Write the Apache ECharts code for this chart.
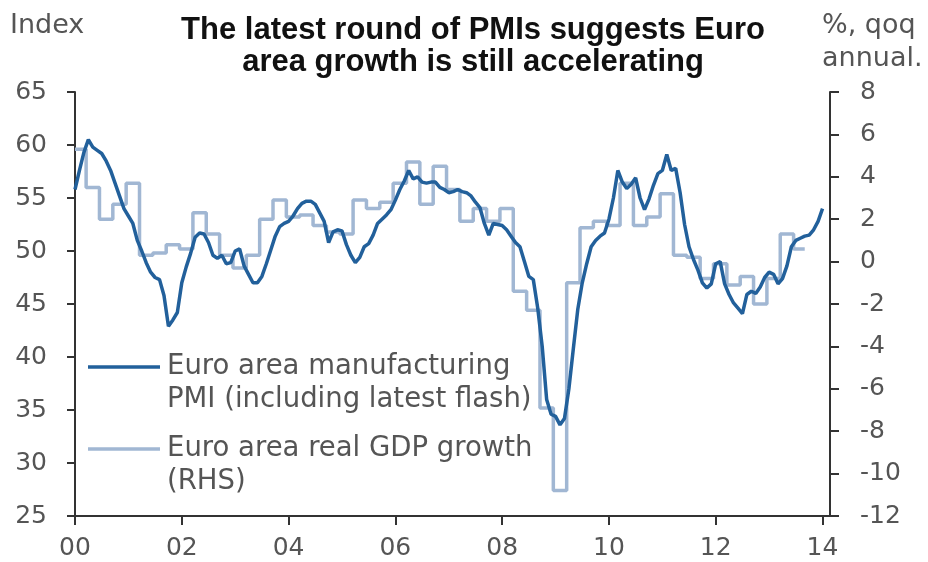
<!DOCTYPE html>
<html>
<head>
<meta charset="utf-8">
<title>Euro area PMI vs GDP</title>
<script src="https://cdn.jsdelivr.net/npm/echarts@6/dist/echarts.min.js"></script>
<style>
  html, body { margin: 0; padding: 0; background: #fff; }
  #chart { width: 928px; height: 562px; }
</style>
</head>
<body>
<div id="chart"></div>
<script>
// Euro area manufacturing PMI, monthly, Jan 2000 .. Jan 2014 (latest flash)
var pmi = [
  55.8, 57.6, 59.3, 60.5, 59.8, 59.5, 59.2, 58.5, 57.6, 56.4, 55.2, 54.0, // 2000
  53.3, 52.6, 51.0, 50.0, 48.9, 48.0, 47.5, 47.3, 45.8, 42.9, 43.5, 44.2, // 2001
  47.0, 48.5, 49.8, 51.3, 51.7, 51.6, 50.8, 49.6, 49.3, 49.6, 48.8, 48.9, // 2002
  50.0, 50.2, 48.6, 47.8, 47.0, 47.0, 47.6, 48.8, 50.1, 51.4, 52.3, 52.6, // 2003
  52.8, 53.3, 54.0, 54.5, 54.7, 54.7, 54.4, 53.6, 52.8, 50.8, 51.8, 52.0, // 2004
  51.9, 50.6, 49.6, 48.9, 49.4, 50.4, 50.7, 51.5, 52.6, 53.0, 53.4, 53.9, // 2005
  54.8, 55.8, 56.6, 57.6, 56.8, 57.0, 56.5, 56.4, 56.5, 56.5, 56.0, 55.8, // 2006
  55.5, 55.6, 55.8, 55.6, 55.5, 55.2, 54.6, 54.1, 52.6, 51.5, 52.6, 52.5, // 2007
  52.4, 52.0, 51.4, 50.8, 50.4, 49.0, 47.6, 47.3, 44.6, 41.0, 36.0, 34.6, // 2008
  34.4, 33.6, 34.2, 37.0, 40.8, 44.5, 47.0, 48.8, 50.4, 51.0, 51.4, 51.7, // 2009
  53.0, 55.0, 57.6, 56.5, 55.9, 56.3, 56.9, 55.0, 53.9, 54.9, 56.2, 57.3, // 2010
  57.6, 59.1, 57.6, 57.8, 55.5, 52.5, 50.4, 49.2, 48.2, 47.0, 46.5, 46.9, // 2011
  48.8, 49.0, 46.9, 45.9, 45.1, 44.6, 44.1, 45.9, 46.2, 46.0, 46.6, 47.5, // 2012
  48.0, 47.8, 46.9, 47.4, 48.6, 50.4, 51.0, 51.2, 51.4, 51.5, 52.0, 52.8, // 2013
  54.0                                                                    // 2014
];

// Euro area real GDP growth, % qoq annualised, Q1 2000 .. Q3 2013
var gdp = [
  5.3, 3.5, 2.0, 2.7,      // 2000
  3.7, 0.3, 0.4, 0.8,      // 2001
  0.6, 2.3, 1.3, 0.3,      // 2002
  -0.3, 0.3, 2.0, 2.9,     // 2003
  2.1, 2.2, 1.7, 1.4,      // 2004
  1.3, 2.9, 2.5, 2.8,      // 2005
  3.7, 4.7, 2.7, 4.5,      // 2006
  3.4, 1.9, 2.5, 1.9,      // 2007
  2.5, -1.4, -2.3, -6.9,   // 2008
  -10.8, -1.0, 1.6, 1.9,   // 2009
  1.7, 3.7, 1.7, 2.1,      // 2010
  3.2, 0.3, 0.2, -0.8,     // 2011
  -0.1, -1.1, -0.7, -2.0,  // 2012
  -0.8, 1.3, 0.6           // 2013
];

var yearLabels = ['00', '02', '04', '06', '08', '10', '12', '14'];

var seriesNames = ['Euro area manufacturing PMI (including latest flash)', 'Euro area real GDP growth (RHS)'];

var pmiColor = '#22609b';
var gdpColor = '#a1b7d3';
var labelColor = '#555555';
var axisColor = '#333333';
var textFont = '27.5px "DejaVu Sans", sans-serif';

// x in years since Jan 2000, each month at i/12
var pmiPoints = pmi.map(function (v, i) { return [i / 12, v]; });

// each quarter drawn flat over its three months (first to last month)
var gdpPoints = [];
gdp.forEach(function (v, q) {
  gdpPoints.push([q / 4, v]);
  gdpPoints.push([q / 4 + 2 / 12, v]);
});

var chart = echarts.init(document.getElementById('chart'));

var option = {
  animation: false,
  backgroundColor: '#ffffff',
  title: {
    text: 'The latest round of PMIs suggests Euro\narea growth is still accelerating',
    left: 468,
    top: 9,
    textAlign: 'center',
    textStyle: {
      fontFamily: 'Liberation Sans, Arial, sans-serif',
      fontWeight: 'bold',
      fontSize: 31,
      lineHeight: 32,
      color: '#111111'
    }
  },
  grid: { left: 75, right: 98, top: 92, bottom: 46 },
  xAxis: {
    type: 'value',
    min: 0,
    max: 14.14,
    interval: 2,
    axisLine: { show: true, onZero: false, lineStyle: { color: axisColor, width: 2 } },
    axisTick: { show: true, length: 9, lineStyle: { color: axisColor, width: 2 } },
    splitLine: { show: false },
    axisLabel: {
      margin: 20,
      color: labelColor,
      fontFamily: 'DejaVu Sans, sans-serif',
      fontSize: 25,
      showMaxLabel: false,
      formatter: function (v) {
        var r = Math.round(v);
        if (Math.abs(v - r) > 1e-6 || r % 2 !== 0) return '';
        return yearLabels[r / 2] || '';
      }
    }
  },
  yAxis: [
    {
      type: 'value',
      position: 'left',
      min: 25,
      max: 65,
      interval: 5,
      axisLine: { show: true, onZero: false, lineStyle: { color: axisColor, width: 2 } },
      axisTick: { show: true, length: 8, lineStyle: { color: axisColor, width: 2 } },
      splitLine: { show: false },
      axisLabel: {
        margin: 28,
        color: labelColor,
        fontFamily: 'DejaVu Sans, sans-serif',
        fontSize: 25
      }
    },
    {
      type: 'value',
      position: 'right',
      min: -12,
      max: 8,
      interval: 2,
      axisLine: { show: true, onZero: false, lineStyle: { color: axisColor, width: 2 } },
      axisTick: { show: true, length: 9, lineStyle: { color: axisColor, width: 2 } },
      splitLine: { show: false },
      axisLabel: {
        margin: 30,
        color: labelColor,
        fontFamily: 'DejaVu Sans, sans-serif',
        fontSize: 25
      }
    }
  ],
  series: [
    {
      name: seriesNames[1],
      type: 'line',
      yAxisIndex: 1,
      step: 'middle',
      showSymbol: false,
      data: gdpPoints,
      lineStyle: { color: gdpColor, width: 3.5 },
      itemStyle: { color: gdpColor },
      z: 2
    },
    {
      name: seriesNames[0],
      type: 'line',
      yAxisIndex: 0,
      showSymbol: false,
      data: pmiPoints,
      lineStyle: { color: pmiColor, width: 3.5 },
      itemStyle: { color: pmiColor },
      z: 3
    }
  ],
  graphic: [
    // axis titles
    { type: 'text', left: 10, top: 12, style: { text: 'Index', fill: labelColor, font: '27px "DejaVu Sans", sans-serif' } },
    { type: 'text', left: 822, top: 12, style: { text: '%, qoq', fill: labelColor, font: '27px "DejaVu Sans", sans-serif' } },
    { type: 'text', left: 822, top: 45, style: { text: 'annual.', fill: labelColor, font: '27px "DejaVu Sans", sans-serif' } },
    // legend
    { type: 'line', shape: { x1: 88, y1: 367, x2: 160, y2: 367 }, style: { stroke: pmiColor, lineWidth: 3.5 } },
    { type: 'text', x: 167, y: 367, style: { text: 'Euro area manufacturing', fill: labelColor, font: textFont, verticalAlign: 'middle' } },
    { type: 'text', x: 167, y: 400, style: { text: 'PMI (including latest flash)', fill: labelColor, font: textFont, verticalAlign: 'middle' } },
    { type: 'line', shape: { x1: 88, y1: 449, x2: 160, y2: 449 }, style: { stroke: gdpColor, lineWidth: 3.5 } },
    { type: 'text', x: 167, y: 449, style: { text: 'Euro area real GDP growth', fill: labelColor, font: textFont, verticalAlign: 'middle' } },
    { type: 'text', x: 167, y: 482, style: { text: '(RHS)', fill: labelColor, font: textFont, verticalAlign: 'middle' } }
  ]
};

chart.setOption(option);
</script>
</body>
</html>
